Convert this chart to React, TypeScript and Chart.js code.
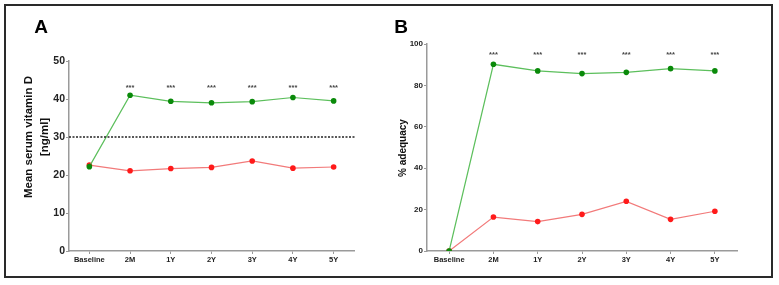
import React, { useEffect, useRef } from "react";
import { Chart, registerables } from "chart.js";

Chart.register(...registerables);

// ---------- data ----------
const categories = ["Baseline", "2M", "1Y", "2Y", "3Y", "4Y", "5Y"];

const vitDSupplemented = [22.2, 41.0, 39.4, 39.0, 39.3, 40.4, 39.5];
const vitDControl = [22.6, 21.1, 21.7, 22.0, 23.7, 21.8, 22.1];

const adequacySupplemented = [0, 90.2, 87.0, 85.7, 86.3, 88.1, 87.0];
const adequacyControl = [0, 16.4, 14.2, 17.7, 24.0, 15.3, 19.2];

const significance = ["", "***", "***", "***", "***", "***", "***"];

const thresholdVitD = 30;
const starLevelA = 43.4;
const starLevelB = 95.5;

const yTicksA = { min: 0, max: 50, step: 10 };
const yTicksB = { min: 0, max: 100, step: 20 };

// ---------- styling ----------
const FONT = "'Liberation Sans', Arial, Helvetica, sans-serif";
const GREEN_PT = "#0a8a0a";
const GREEN_LN = "#5cbf5c";
const RED_PT = "#ff1a1a";
const RED_LN = "#f27a7a";
const AXIS = "#9a9a9a";

type PanelProps = {
  letter: string;
  letterX: number;
  titleLines: string[];
  titleX: number[];
  titleY: number;
  titleSize: number;
  greenData: number[];
  redData: number[];
  yr: { min: number; max: number; step: number };
  yTickSize: number;
  yAxisWidth: number;
  padRight: number;
  padTop: number;
  starLevel: number;
  threshold?: number;
  left: number;
  width: number;
};

function Panel(p: PanelProps) {
  const ref = useRef<HTMLCanvasElement | null>(null);
  useEffect(() => {
    if (!ref.current) return;
    const overlay = {
      id: "overlay",
      afterDatasetsDraw(chart: any) {
        const ctx = chart.ctx;
        const xs = chart.scales.x;
        const ys = chart.scales.y;
        const ca = chart.chartArea;
        ctx.save();
        if (p.threshold !== undefined) {
          const y = ys.getPixelForValue(p.threshold);
          ctx.beginPath();
          ctx.setLineDash([2, 1.5]);
          ctx.strokeStyle = "#222";
          ctx.lineWidth = 1.3;
          ctx.moveTo(ca.left, y);
          ctx.lineTo(ca.right + 2, y);
          ctx.stroke();
          ctx.setLineDash([]);
        }
        ctx.fillStyle = "#444";
        ctx.font = `bold 7.5px ${FONT}`;
        ctx.textAlign = "center";
        ctx.textBaseline = "middle";
        significance.forEach((s, i) => {
          if (!s) return;
          ctx.fillText(s, xs.getPixelForValue(i), ys.getPixelForValue(p.starLevel) + 2);
        });
        ctx.fillStyle = "#000";
        ctx.font = `bold 19px ${FONT}`;
        ctx.fillText(p.letter, p.letterX, 28);
        ctx.fillStyle = "#111";
        ctx.font = `bold ${p.titleSize}px ${FONT}`;
        p.titleLines.forEach((line, i) => {
          ctx.save();
          ctx.translate(p.titleX[i], p.titleY);
          ctx.rotate(-Math.PI / 2);
          ctx.fillText(line, 0, 0);
          ctx.restore();
        });
        ctx.restore();
      },
    };
    const chart = new Chart(ref.current, {
      type: "line",
      data: {
        labels: categories,
        datasets: [
          {
            data: p.greenData,
            borderColor: GREEN_LN,
            backgroundColor: GREEN_PT,
            pointBackgroundColor: GREEN_PT,
            pointBorderWidth: 0,
            borderWidth: 1.2,
            pointRadius: 2.8,
            tension: 0,
          },
          {
            data: p.redData,
            borderColor: RED_LN,
            backgroundColor: RED_PT,
            pointBackgroundColor: RED_PT,
            pointBorderWidth: 0,
            borderWidth: 1.2,
            pointRadius: 2.8,
            tension: 0,
          },
        ],
      },
      options: {
        animation: false,
        responsive: false,
        maintainAspectRatio: false,
        layout: { padding: { left: 0, right: p.padRight, top: p.padTop, bottom: 12 } },
        plugins: { legend: { display: false }, tooltip: { enabled: false } },
        scales: {
          x: {
            offset: true,
            grid: {
              display: true,
              drawOnChartArea: false,
              drawTicks: true,
              tickLength: 3,
              color: AXIS,
              offset: false,
            },
            border: { color: AXIS, width: 1.5 },
            ticks: {
              color: "#222",
              font: { family: FONT, size: 7.5, weight: "bold" },
              padding: 1,
              maxRotation: 0,
              autoSkip: false,
            },
            afterFit: (s: any) => {
              s.height = 22;
            },
          },
          y: {
            min: p.yr.min,
            max: p.yr.max,
            grid: {
              display: true,
              drawOnChartArea: false,
              drawTicks: true,
              tickLength: 3,
              color: AXIS,
            },
            border: { color: AXIS, width: 1.5 },
            ticks: {
              stepSize: p.yr.step,
              color: "#222",
              font: { family: FONT, size: p.yTickSize, weight: "bold" },
              padding: 1,
            },
            afterFit: (s: any) => {
              s.width = p.yAxisWidth;
            },
          },
        },
      },
      plugins: [overlay],
    } as any);
    return () => chart.destroy();
  }, []);
  return (
    <canvas
      ref={ref}
      width={p.width}
      height={285}
      style={{ position: "absolute", left: p.left, top: 0, width: p.width, height: 285 }}
    />
  );
}

export default function App() {
  useEffect(() => {
    document.body.style.margin = "0";
  }, []);
  return (
    <div style={{ position: "relative", width: 779, height: 285, background: "#fff", overflow: "hidden" }}>
      <div
        style={{
          position: "absolute",
          left: 4,
          top: 4,
          width: 769,
          height: 274,
          boxSizing: "border-box",
          border: "2px solid #2a2a2a",
        }}
      />
      <Panel
        letter="A"
        letterX={41}
        titleLines={["Mean serum vitamin D", "[ng/ml]"]}
        titleX={[29, 45]}
        titleY={137}
        titleSize={11.5}
        greenData={vitDSupplemented}
        redData={vitDControl}
        yr={yTicksA}
        yTickSize={10.5}
        yAxisWidth={69}
        padRight={36}
        padTop={61}
        starLevel={starLevelA}
        threshold={thresholdVitD}
        left={0}
        width={390}
      />
      <Panel
        letter="B"
        letterX={11}
        titleLines={["% adequacy"]}
        titleX={[13]}
        titleY={148}
        titleSize={10}
        greenData={adequacySupplemented}
        redData={adequacyControl}
        yr={yTicksB}
        yTickSize={8}
        yAxisWidth={37}
        padRight={42}
        padTop={44}
        starLevel={starLevelB}
        left={390}
        width={389}
      />
    </div>
  );
}
